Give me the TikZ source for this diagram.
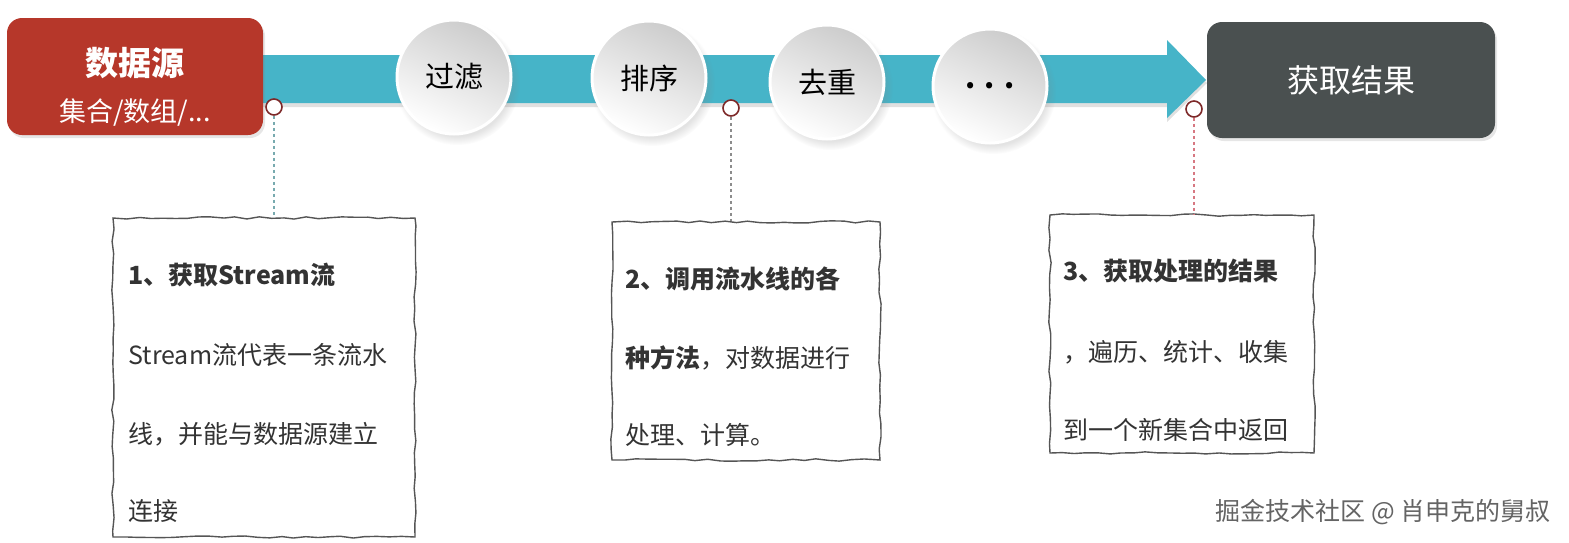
\documentclass[tikz,border=0pt]{standalone}
\usepackage{fontspec}
\setmainfont{Noto Sans CJK SC}
\usetikzlibrary{shadows,decorations.pathmorphing}
\definecolor{srcred}{RGB}{182,55,42}
\definecolor{bandteal}{RGB}{70,180,200}
\definecolor{resgray}{RGB}{74,80,80}
\definecolor{markred}{RGB}{125,40,40}
\definecolor{notetext}{RGB}{51,51,51}
\definecolor{noteline}{RGB}{85,85,85}
\definecolor{dotteal}{RGB}{120,170,175}
\definecolor{dotgray}{RGB}{140,140,140}
\definecolor{dotpink}{RGB}{215,120,130}
\definecolor{wmgray}{RGB}{100,100,100}
\tikzset{
  endbox/.style={rounded corners=7.5pt, inner sep=0pt, text=white,
    drop shadow={shadow xshift=1pt, shadow yshift=-1.5pt, opacity=0.2}},
  stage/.style={circle, minimum size=57pt, inner sep=0pt, draw=white, line width=1.5pt,
    shading=axis, top color=black!20, bottom color=white, shading angle=-25,
    circular drop shadow={shadow xshift=1.5pt, shadow yshift=-2.5pt, opacity=0.22},
    font=\fontsize{14.5}{16}\selectfont, text=black},
  marker/.style={circle, minimum size=8pt, inner sep=0pt, fill=white, draw=markred, line width=0.8pt},
  dotline/.style={line width=0.6pt, dash pattern=on 1.5pt off 1.5pt},
  notebox/.style={draw=noteline, line width=0.7pt, inner sep=0pt, fill=white,
    decorate, decoration={random steps, segment length=6pt, amplitude=0.6pt}},
  noteline/.style={anchor=west, inner sep=0pt, text=notetext, font=\fontsize{12.5}{15}\selectfont},
}
\begin{document}
\pgfmathsetseed{11}
\begin{tikzpicture}[x=0.5pt,y=-0.5pt]
\useasboundingbox (0,0) rectangle (1569,542);
% band shadow
\fill[black, opacity=0.12] (263,59) -- (1167,59) -- (1167,44) -- (1207,83) -- (1167,122) -- (1167,107) -- (263,107) -- cycle;
% band arrow
\fill[bandteal] (263,55) -- (1167,55) -- (1167,40) -- (1206,80) -- (1167,118) -- (1167,103) -- (263,103) -- cycle;
% end boxes
\node[endbox, fill=srcred, minimum width=128pt, minimum height=58.5pt] (src) at (135,76.5) {};
\node[text=white, font=\fontsize{16.5}{18}\selectfont\bfseries, inner sep=0pt] (srct) at (135,63) {数据源};
\node[text=white, font=\fontsize{13.5}{15}\selectfont, inner sep=0pt] (srcs) at (135,113) {集合/数组/...};
\node[endbox, fill=resgray, minimum width=144pt, minimum height=58pt, font=\fontsize{16}{18}\selectfont] (res) at (1351,80) {获取结果};
% stages
\node[stage] (s1) at (454,77) {过滤};
\node[stage] (s2) at (649,78) {排序};
\node[stage] (s3) at (827,82) {去重};
\node[stage] (s4) at (990,86) {\textbf{.\,\,.\,\,.}};
% notes
\node[notebox, minimum width=151pt, minimum height=159.5pt] (n1) at (264,377.5) {};
\node[notebox, minimum width=134pt, minimum height=119pt] (n2) at (746,341) {};
\node[notebox, minimum width=132pt, minimum height=119pt] (n3) at (1182,334) {};
% markers and dotted connectors
\node[marker] (m1) at (274,107) {};
\node[marker] (m2) at (731,108) {};
\node[marker] (m3) at (1194,109) {};
\draw[dotline, dotteal] (m1.south) -- (m1.south |- n1.north);
\draw[dotline, dotgray] (m2.south) -- (m2.south |- n2.north);
\draw[dotline, dotpink] (m3.south) -- (m3.south |- n3.north);
% note texts
\node[noteline] (t1a) at (128,275) {\textbf{1、获取Stream流}};
\node[noteline] (t1b) at (128,355) {Stream流代表一条流水};
\node[noteline] (t1c) at (128,434) {线，并能与数据源建立};
\node[noteline] (t1d) at (128,511) {连接};
\node[noteline] (t2a) at (625,279) {\textbf{2、调用流水线的各}};
\node[noteline] (t2b) at (625,358) {\textbf{种方法}，对数据进行};
\node[noteline] (t2c) at (625,435) {处理、计算。};
\node[noteline] (t3a) at (1063,271) {\textbf{3、获取处理的结果}};
\node[noteline] (t3b) at (1063,352) {，遍历、统计、收集};
\node[noteline] (t3c) at (1063,430) {到一个新集合中返回};
% watermark
\node[text=wmgray, font=\fontsize{12.5}{14}\selectfont, inner sep=0pt] (wm) at (1383,512) {掘金技术社区 @ 肖申克的舅叔};
\end{tikzpicture}
\end{document}
